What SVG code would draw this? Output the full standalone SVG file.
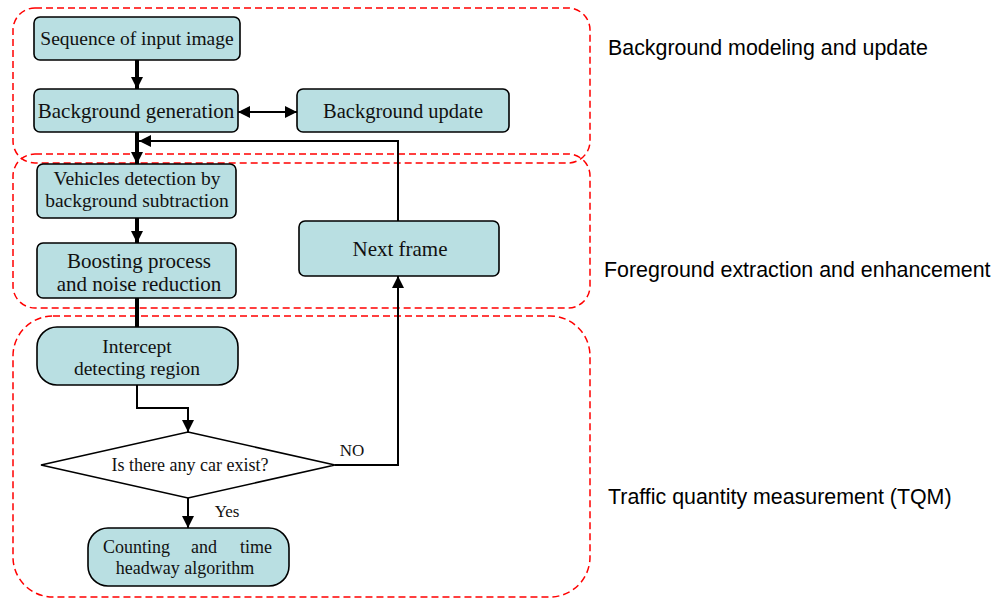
<svg xmlns="http://www.w3.org/2000/svg" width="995" height="600" viewBox="0 0 995 600">
<style>
.node{fill:#B9DFE2;stroke:#000;stroke-width:1.6}
.t{font-family:"Liberation Serif","Times New Roman",serif;fill:#111;text-anchor:middle}
.grp{fill:none;stroke:#FF0000;stroke-width:1.5;stroke-dasharray:7,4}
.lab{font-family:"Liberation Sans",Arial,sans-serif;font-size:21.4px;fill:#000}
.thick{stroke:#000;stroke-width:4;fill:none}
.thin{stroke:#000;stroke-width:2;fill:none}
</style>
<defs>
<marker id="ah" markerUnits="userSpaceOnUse" markerWidth="14" markerHeight="14" refX="12" refY="6" orient="auto">
<path d="M0,0 L12,6 L0,12 Z" fill="#000"/>
</marker>
<marker id="ahs" markerUnits="userSpaceOnUse" markerWidth="16" markerHeight="16" refX="0" refY="6" orient="auto">
<path d="M12,0 L0,6 L12,12 Z" fill="#000"/>
</marker>
</defs>
<g id="groups">
<rect class="grp" x="13" y="8" width="577" height="155" rx="22"/>
<rect class="grp" x="13" y="154" width="577" height="154" rx="22"/>
<rect class="grp" x="13" y="316" width="577" height="281" rx="40"/>
<text class="lab" x="608" y="55">Background modeling and update</text>
<text class="lab" x="604" y="277">Foreground extraction and enhancement</text>
<text class="lab" x="608" y="504">Traffic quantity measurement (TQM)</text>
</g>
<g id="connectors">
<line class="thick" x1="137" y1="60" x2="137" y2="89" marker-end="url(#ah)"/>
<line class="thin" x1="238" y1="112" x2="297" y2="112" marker-start="url(#ahs)" marker-end="url(#ah)"/>
<line class="thick" x1="137" y1="132" x2="137" y2="164" marker-end="url(#ah)"/>
<polyline class="thin" points="398,221 398,141 139,141" marker-end="url(#ah)"/>
<line class="thick" x1="137" y1="218" x2="137" y2="243" marker-end="url(#ah)"/>
<line class="thick" x1="137" y1="298" x2="137" y2="327"/>
<polyline class="thin" points="137,385 137,408 188,408 188,432" marker-end="url(#ah)"/>
<line class="thin" x1="188" y1="498" x2="188" y2="528" marker-end="url(#ah)"/>
<polyline class="thin" points="335,465 398,465 398,276" marker-end="url(#ah)"/>
<text class="t" x="352" y="456" font-size="17">NO</text>
<text class="t" x="227" y="517" font-size="17">Yes</text>
</g>
<g id="n-sequence">
<rect class="node" x="34" y="17" width="206" height="43" rx="6"/>
<text class="t" x="137" y="45" font-size="19.5">Sequence of input image</text>
</g>
<g id="n-bggen">
<rect class="node" x="34" y="89" width="204" height="43" rx="6"/>
<text class="t" x="136" y="118" font-size="21">Background generation</text>
</g>
<g id="n-bgupdate">
<rect class="node" x="297" y="89" width="212" height="43" rx="6"/>
<text class="t" x="403" y="118" font-size="20.5">Background update</text>
</g>
<g id="n-vehicles">
<rect class="node" x="37" y="164" width="199" height="54" rx="6"/>
<text class="t" x="137" y="185" font-size="19.5">Vehicles detection by</text>
<text class="t" x="137" y="207" font-size="19.5">background subtraction</text>
</g>
<g id="n-boosting">
<rect class="node" x="37" y="243" width="199" height="55" rx="6"/>
<text class="t" x="139" y="268" font-size="21">Boosting process</text>
<text class="t" x="139" y="291" font-size="21">and noise reduction</text>
</g>
<g id="n-next">
<rect class="node" x="299" y="221" width="200" height="55" rx="6"/>
<text class="t" x="400" y="256" font-size="21">Next frame</text>
</g>
<g id="n-intercept">
<rect class="node" x="37" y="327" width="201" height="58" rx="20"/>
<text class="t" x="137" y="353" font-size="19.5">Intercept</text>
<text class="t" x="137" y="375" font-size="19.5">detecting region</text>
</g>
<g id="n-decision">
<polygon points="188,432 335,465 188,498 41,465" fill="#fff" stroke="#000" stroke-width="1.6"/>
<text class="t" x="190" y="471" font-size="18">Is there any car exist?</text>
</g>
<g id="n-counting">
<rect class="node" x="88" y="528" width="201" height="58" rx="20"/>
<text class="t" font-size="18" style="text-anchor:start" y="553"><tspan x="103">Counting</tspan><tspan x="191">and</tspan><tspan x="240">time</tspan></text>
<text class="t" x="185" y="574" font-size="18">headway algorithm</text>
</g>
</svg>
